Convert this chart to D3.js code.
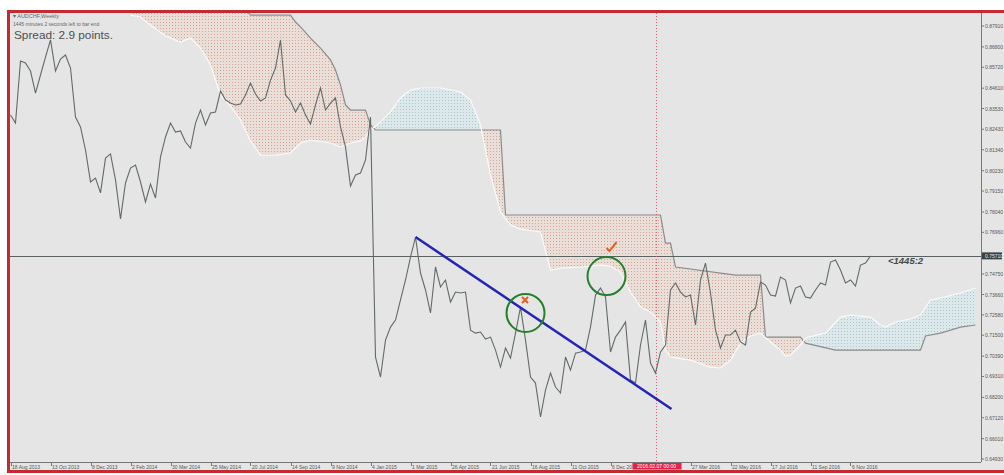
<!DOCTYPE html>
<html>
<head>
<meta charset="utf-8">
<script src="https://cdn.jsdelivr.net/npm/d3@7"></script>
<style>
  body { margin: 0; background: #fff; }
  text { font-family: "Liberation Sans", Arial, sans-serif; }
</style>
</head>
<body>
<script>
// AUDCHF weekly with Ichimoku cloud

var w = 1004;
var h = 475;

// first weekly bar (week 0)
var startDate = new Date(Date.UTC(2013, 7, 18));

// weekly closes, week 0 .. 172
var closes = [
  0.8319, 0.8276, 0.8605, 0.8595, 0.8552, 0.8435, 0.8531, 0.8626, 0.8717, 0.8552,
  0.8616, 0.8637, 0.8568, 0.8308, 0.8255, 0.8133, 0.7963, 0.7984, 0.7905, 0.8090,
  0.8112, 0.7974, 0.7767, 0.7958, 0.8037, 0.8053, 0.7963, 0.7857, 0.7952, 0.7878,
  0.8096, 0.8202, 0.8276, 0.8228, 0.8234, 0.8175, 0.8143, 0.8276, 0.8345, 0.8266,
  0.8329, 0.8335, 0.8446, 0.8398, 0.8382, 0.8372, 0.8377, 0.8425, 0.8488, 0.8430,
  0.8393, 0.8409, 0.8504, 0.8568, 0.8717, 0.8425, 0.8393, 0.8335, 0.8382, 0.8319,
  0.8271, 0.8372, 0.8462, 0.8345, 0.8382, 0.8409, 0.8255, 0.8149, 0.7942, 0.8000,
  0.8011, 0.8080, 0.8308, 0.7034, 0.6928, 0.7124, 0.7193, 0.7230, 0.7337, 0.7443,
  0.7565, 0.7671, 0.7480, 0.7390, 0.7268, 0.7512, 0.7406, 0.7443, 0.7326, 0.7379,
  0.7374, 0.7379, 0.7177, 0.7161, 0.7167, 0.7130, 0.7140, 0.7071, 0.6981, 0.7082,
  0.7029, 0.7161, 0.7299, 0.7124, 0.6928, 0.6896, 0.6716, 0.6859, 0.6949, 0.6875,
  0.6843, 0.7034, 0.6965, 0.7055, 0.7061, 0.7071, 0.7193, 0.7363, 0.7400, 0.7353,
  0.7061, 0.7140, 0.7177, 0.7220, 0.6912, 0.6896, 0.7098, 0.7230, 0.7002, 0.6949,
  0.7061, 0.7098, 0.7390, 0.7427, 0.7379, 0.7353, 0.7363, 0.7204, 0.7443, 0.7533,
  0.7374, 0.7177, 0.7082, 0.7151, 0.7151, 0.7177, 0.7114, 0.7098, 0.7273, 0.7294,
  0.7432, 0.7416, 0.7363, 0.7358, 0.7459, 0.7443, 0.7321, 0.7400, 0.7411, 0.7353,
  0.7347, 0.7390, 0.7427, 0.7416, 0.7538, 0.7549, 0.7496, 0.7427, 0.7443, 0.7411,
  0.7522, 0.7533, 0.7571
];

// Senkou span A (white line), knots [week, price]
var spanAWeeks = [24, 26, 28, 31, 34, 36, 38, 40, 42, 44, 46, 48, 50, 53, 56, 58, 60, 64, 66, 68,
  70, 71, 72, 74, 76, 78, 80, 82, 86, 90, 92, 94, 96, 98, 100, 102, 106, 108, 110, 114,
  118, 120, 122, 124, 126, 128, 130, 131, 132, 136, 140, 142, 144, 146, 148, 150, 152, 154, 155, 156,
  158, 159, 162, 163, 166, 168, 172, 174, 175, 177, 180, 182, 184, 187, 190, 193];
var spanA = [0.8849, 0.8839, 0.8796, 0.8738, 0.8706, 0.8727, 0.8674, 0.8584, 0.8425, 0.8366,
  0.8292, 0.8181, 0.8106, 0.8106, 0.8117, 0.8170, 0.8186, 0.8170, 0.8149, 0.8170,
  0.8181, 0.8202, 0.8239, 0.8281, 0.8335, 0.8409, 0.8451, 0.8462, 0.8462, 0.8441,
  0.8398, 0.8266, 0.8000, 0.7804, 0.7735, 0.7713, 0.7698, 0.7496, 0.7506, 0.7512,
  0.7522, 0.7517, 0.7485, 0.7379, 0.7299, 0.7273, 0.7220, 0.7071, 0.7034, 0.7018,
  0.6981, 0.6976, 0.7018, 0.7108, 0.7146, 0.7161, 0.7114, 0.7071, 0.7039, 0.7045,
  0.7098, 0.7135, 0.7156, 0.7161, 0.7246, 0.7257, 0.7246, 0.7204, 0.7193, 0.7220,
  0.7236, 0.7257, 0.7337, 0.7353, 0.7374, 0.7400];

// Senkou span B (grey line), knots [week, price]
var spanBWeeks = [24, 47, 48, 56, 57, 58, 60, 62, 64, 65, 66, 67, 68, 71, 72, 73, 98, 99, 130, 131,
  132, 133, 145, 150, 151, 158, 159, 165, 182, 183, 186, 190, 193];
var spanB = [0.8880, 0.8880, 0.8849, 0.8849, 0.8812, 0.8786, 0.8727, 0.8674, 0.8611, 0.8557,
  0.8478, 0.8372, 0.8345, 0.8345, 0.8266, 0.8239, 0.8239, 0.7788, 0.7788, 0.7639,
  0.7639, 0.7512, 0.7469, 0.7469, 0.7140, 0.7140, 0.7108, 0.7071, 0.7071, 0.7146,
  0.7161, 0.7193, 0.7204];

// right price scale labels
var priceTicks = [0.87910, 0.86800, 0.85720, 0.84610, 0.83530, 0.82430, 0.81340, 0.80230,
  0.79150, 0.78040, 0.76960, 0.74750, 0.73660, 0.72580, 0.71500, 0.70390, 0.69310,
  0.68200, 0.67120, 0.66010, 0.64930];
var lastPrice = 0.75710;

// annotations
var cursorWeek = 129;
var trendLine = [{ week: 81, price: 0.7671 }, { week: 132.2, price: 0.6758 }];
var circles = [{ week: 103, price: 0.7268 }, { week: 119.2, price: 0.7464 }];
var crossMark = { week: 102.9, price: 0.7337 };
var checkMark = { week: 120.2, price: 0.7618 };

function weekDate(i) {
  return new Date(startDate.getTime() + i * 7 * 86400000);
}

//plot box
var plotL = 10, plotR = 981, plotT = 13, plotB = 462;

var xScale = d3.scaleUtc()
  .domain([startDate, weekDate(200)])
  .range([10.5, 1010.5]);

var yScale = d3.scaleLinear()
  .domain([0.64930, 0.87910])
  .range([459, 26]);

var svg = d3.select("body")
  .append("svg")
  .attr("width", w)
  .attr("height", h);

var defs = svg.append("defs");

//dotted cloud fills
function dotPattern(id, bg, dot) {
  var p = defs.append("pattern")
    .attr("id", id)
    .attr("width", 3)
    .attr("height", 3)
    .attr("patternUnits", "userSpaceOnUse");
  p.append("rect").attr("width", 3).attr("height", 3).attr("fill", bg);
  p.append("rect").attr("x", 1).attr("y", 1).attr("width", 1).attr("height", 1).attr("fill", dot);
}
dotPattern("tanDots", "#eadfd8", "#d3a596");
dotPattern("blueDots", "#dde8ea", "#a9c9cf");

defs.append("clipPath").attr("id", "plotClip")
  .append("rect")
  .attr("x", plotL).attr("y", plotT)
  .attr("width", plotR - plotL).attr("height", plotB - plotT);

var aPts = spanAWeeks.map(function(wk, i) { return [xScale(weekDate(wk)), yScale(spanA[i])]; });
var bPts = spanBWeeks.map(function(wk, i) { return [xScale(weekDate(wk)), yScale(spanB[i])]; });

var aboveArea = d3.area()
  .x(function(d) { return d[0]; })
  .y0(0)
  .y1(function(d) { return d[1]; });

defs.append("clipPath").attr("id", "aboveA")
  .append("path").attr("d", aboveArea(aPts));
defs.append("clipPath").attr("id", "aboveB")
  .append("path").attr("d", aboveArea(bPts));

//frame and background (right edge runs past the picture)
svg.append("rect")
  .attr("x", 8.5).attr("y", 11.5)
  .attr("width", 1002).attr("height", 460)
  .attr("fill", "#e5e5e5")
  .attr("stroke", "#c42a32")
  .attr("stroke-width", 3);

var plot = svg.append("g").attr("clip-path", "url(#plotClip)");

//cloud polygon
var cloudPath = d3.line()(aPts.concat(bPts.slice().reverse())) + "Z";

plot.append("g").attr("clip-path", "url(#aboveA)")
  .append("path")
  .attr("d", cloudPath)
  .attr("fill", "url(#tanDots)");

plot.append("g").attr("clip-path", "url(#aboveB)")
  .append("path")
  .attr("d", cloudPath)
  .attr("fill", "url(#blueDots)");

var knotLine = d3.line();

plot.append("path")
  .attr("d", knotLine(bPts))
  .attr("fill", "none")
  .attr("stroke", "#8c8c8c")
  .attr("stroke-width", 1.2);

plot.append("path")
  .attr("d", knotLine(aPts))
  .attr("fill", "none")
  .attr("stroke", "#fafafa")
  .attr("stroke-width", 1.2);

//current price line
plot.append("line")
  .attr("x1", plotL).attr("x2", plotR)
  .attr("y1", Math.round(yScale(lastPrice)) + 0.5)
  .attr("y2", Math.round(yScale(lastPrice)) + 0.5)
  .attr("stroke", "#5a5f5f")
  .attr("stroke-width", 1);

//cursor line
var cx = Math.round(xScale(weekDate(cursorWeek))) + 0.5;
plot.append("line")
  .attr("x1", cx).attr("x2", cx)
  .attr("y1", plotT).attr("y2", plotB)
  .attr("stroke", "#e0607a")
  .attr("stroke-dasharray", "1,2");

//price line
var priceLine = d3.line()
  .x(function(d, i) { return xScale(weekDate(i)); })
  .y(function(d) { return yScale(d); });

plot.append("path")
  .datum(closes)
  .attr("d", priceLine)
  .attr("fill", "none")
  .attr("stroke", "#626a6a")
  .attr("stroke-width", 1.1);

//trend line
plot.append("line")
  .attr("x1", xScale(weekDate(trendLine[0].week)))
  .attr("y1", yScale(trendLine[0].price))
  .attr("x2", xScale(weekDate(trendLine[1].week)))
  .attr("y2", yScale(trendLine[1].price))
  .attr("stroke", "#2424b8")
  .attr("stroke-width", 2.5);

plot.selectAll("circle.mark")
  .data(circles)
  .enter()
  .append("circle")
  .attr("class", "mark")
  .attr("cx", function(d) { return xScale(weekDate(d.week)); })
  .attr("cy", function(d) { return yScale(d.price); })
  .attr("r", 19)
  .attr("fill", "none")
  .attr("stroke", "#24802c")
  .attr("stroke-width", 2);

var xx = xScale(weekDate(crossMark.week)), xy = yScale(crossMark.price);
plot.append("path")
  .attr("d", "M" + (xx - 3) + "," + (xy - 3) + "L" + (xx + 3) + "," + (xy + 3) +
    "M" + (xx + 3) + "," + (xy - 3) + "L" + (xx - 3) + "," + (xy + 3))
  .attr("stroke", "#ee5a22")
  .attr("stroke-width", 2);

var kx = xScale(weekDate(checkMark.week)), ky = yScale(checkMark.price);
plot.append("path")
  .attr("d", "M" + (kx - 5) + "," + (ky + 1) + "L" + (kx - 2) + "," + (ky + 4) + "L" + (kx + 5) + "," + (ky - 5))
  .attr("fill", "none")
  .attr("stroke", "#ee5a22")
  .attr("stroke-width", 2);

//bar countdown label
svg.append("text")
  .attr("x", 888).attr("y", 264)
  .attr("font-size", "9.5px")
  .attr("font-style", "italic")
  .attr("font-weight", "bold")
  .attr("fill", "#3e4c4c")
  .text("<1445:2");

//header texts
svg.append("text")
  .attr("x", 13).attr("y", 18)
  .attr("font-size", "5.5px")
  .attr("fill", "#666")
  .text("\u25BE AUDCHF,Weekly");

svg.append("text")
  .attr("x", 13).attr("y", 26)
  .attr("font-size", "5px")
  .attr("fill", "#666")
  .text("1445 minutes 2 seconds left to bar end");

svg.append("text")
  .attr("x", 14).attr("y", 38.5)
  .attr("font-size", "11.8px")
  .attr("fill", "#4a5050")
  .text("Spread: 2.9 points.");

//right price axis
svg.append("line")
  .attr("x1", plotR + 0.5).attr("x2", plotR + 0.5)
  .attr("y1", plotT).attr("y2", plotB)
  .attr("stroke", "#777");

var yAxis = svg.append("g");
yAxis.selectAll("line")
  .data(priceTicks)
  .enter()
  .append("line")
  .attr("x1", plotR).attr("x2", plotR + 3)
  .attr("y1", function(d) { return yScale(d); })
  .attr("y2", function(d) { return yScale(d); })
  .attr("stroke", "#777");

yAxis.selectAll("text")
  .data(priceTicks)
  .enter()
  .append("text")
  .attr("x", plotR + 4)
  .attr("y", function(d) { return yScale(d) + 2; })
  .attr("font-size", "5px")
  .attr("fill", "#555")
  .text(function(d) { return d3.format(".5f")(d); });

svg.append("rect")
  .attr("x", plotR + 1).attr("y", yScale(lastPrice) - 3.5)
  .attr("width", 20).attr("height", 7)
  .attr("fill", "#3a4444");
svg.append("text")
  .attr("x", plotR + 4).attr("y", yScale(lastPrice) + 2)
  .attr("font-size", "5px")
  .attr("fill", "#e8e8e8")
  .text(d3.format(".5f")(lastPrice));

//bottom time axis
svg.append("line")
  .attr("x1", plotL).attr("x2", plotR)
  .attr("y1", plotB + 0.5).attr("y2", plotB + 0.5)
  .attr("stroke", "#777");

var dateTicks = d3.range(0, 22).map(function(n) { return weekDate(n * 8); })
  .filter(function(d) { return Math.abs(xScale(d) - cx) > 30; });
var fmt = d3.utcFormat("%-d %b %Y");

var xAxis = svg.append("g");
xAxis.selectAll("line")
  .data(dateTicks)
  .enter()
  .append("line")
  .attr("x1", function(d) { return Math.round(xScale(d)) + 0.5; })
  .attr("x2", function(d) { return Math.round(xScale(d)) + 0.5; })
  .attr("y1", plotB).attr("y2", plotB + 4)
  .attr("stroke", "#777");

xAxis.selectAll("text")
  .data(dateTicks)
  .enter()
  .append("text")
  .attr("x", function(d) { return xScale(d) + 1.5; })
  .attr("y", plotB + 6.5)
  .attr("font-size", "5px")
  .attr("fill", "#555")
  .text(function(d) { return fmt(d); });

//cursor date box
svg.append("rect")
  .attr("x", cx - 24).attr("y", plotB + 1)
  .attr("width", 49).attr("height", 6.5)
  .attr("fill", "#e4224a");
svg.append("text")
  .attr("x", cx).attr("y", plotB + 6.2)
  .attr("text-anchor", "middle")
  .attr("font-size", "5px")
  .attr("fill", "#fff")
  .text(d3.utcFormat("%Y.%m.%d 00:00")(weekDate(cursorWeek)));
</script>
</body>
</html>
